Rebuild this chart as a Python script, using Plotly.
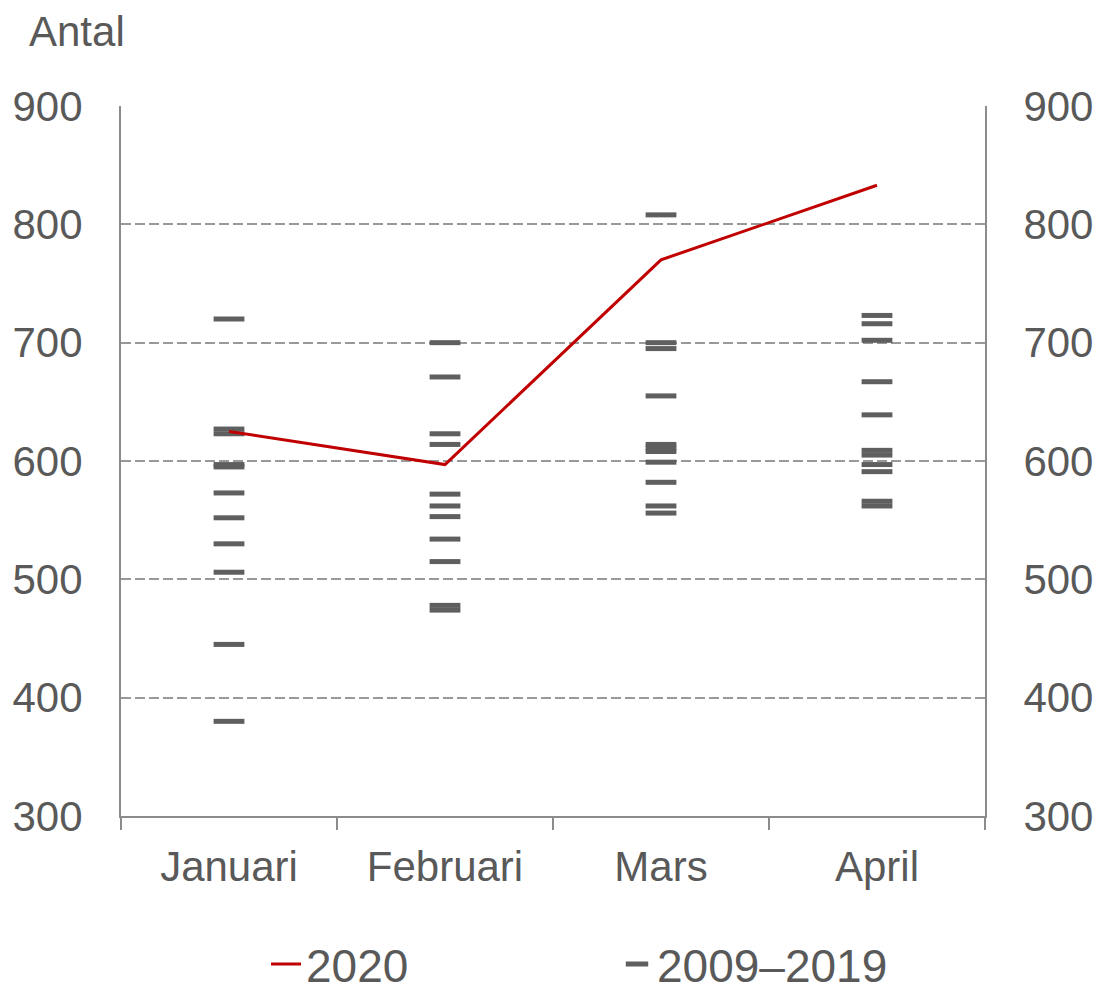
import plotly.graph_objects as go

months = ["Januari", "Februari", "Mars", "April"]
values_2020 = [625, 597, 770, 833]
hist_jan = [720, 627, 623, 597, 595, 573, 552, 530, 506, 445, 380]
hist_feb = [700, 671, 623, 614, 572, 562, 553, 534, 515, 478, 474]
hist_mar = [808, 700, 695, 655, 614, 611, 608, 599, 582, 562, 556]
hist_apr = [723, 716, 702, 667, 639, 609, 605, 597, 591, 566, 562]
y_ticks = [300, 400, 500, 600, 700, 800, 900]

FONT = "Liberation Sans, Arial, sans-serif"
TXT = "#595959"
AX = "#8c8c8c"

# page body has an 8px margin: figure spans page x 8..1101, y 8..992
W, H = 1093, 984
L, R, T, B = 113, 116, 98, 176
PW, PH = W - L - R, H - T - B

hx, hy = [], []
for m, vals in zip(months, [hist_jan, hist_feb, hist_mar, hist_apr]):
    hx += [m] * len(vals)
    hy += vals

fig = go.Figure()
fig.add_trace(go.Scatter(
    x=hx, y=hy, mode="markers", name="2009–2019",
    marker=dict(symbol="line-ew", size=22, color="#5f5f5f",
                line=dict(color="#5f5f5f", width=5)),
))
fig.add_trace(go.Scatter(
    x=months, y=values_2020, mode="lines", name="2020",
    line=dict(color="#c00000", width=3),
))
fig.add_trace(go.Scatter(x=months, y=values_2020, yaxis="y2", mode="lines",
                         line=dict(width=0), opacity=0, showlegend=False,
                         hoverinfo="skip"))

fig.update_layout(
    width=W, height=H,
    margin=dict(l=L, r=R, t=T, b=B, autoexpand=False),
    paper_bgcolor="white", plot_bgcolor="white",
    font=dict(family=FONT, size=42, color=TXT),
    xaxis=dict(type="category", categoryorder="array", categoryarray=months,
               range=[-0.5, 3.5], showgrid=False, showline=True,
               linecolor=AX, linewidth=2, ticks="outside",
               tickson="boundaries", ticklen=12, tickcolor=AX, tickwidth=2,
               ticklabelstandoff=13,
               tickfont=dict(size=42, color=TXT), zeroline=False),
    yaxis=dict(range=[300, 900], tickvals=y_ticks, showgrid=True,
               gridcolor="#999999", griddash="10px,4px", gridwidth=1.5,
               showline=True, linecolor=AX, linewidth=2,
               ticks="", zeroline=False, ticklabelstandoff=28,
               tickfont=dict(size=42, color=TXT)),
    yaxis2=dict(range=[300, 900], tickvals=y_ticks, overlaying="y",
                side="right", showgrid=False, showline=True,
                linecolor=AX, linewidth=2, ticks="",
                zeroline=False, ticklabelstandoff=28,
                tickfont=dict(size=42, color=TXT)),
    legend=dict(orientation="h", x=(258 - L) / PW, xanchor="left",
                yref="container", y=1 - 956 / H, yanchor="middle",
                font=dict(size=46, color=TXT),
                traceorder="reversed", entrywidth=306, itemwidth=30),
    showlegend=True,
    annotations=[dict(text="Antal", x=(19 - L) / PW, xanchor="left",
                      y=1 + (T - 24) / PH, yanchor="middle",
                      xref="paper", yref="paper", showarrow=False,
                      font=dict(size=42, color=TXT))],
)

fig.write_html("out.html")
